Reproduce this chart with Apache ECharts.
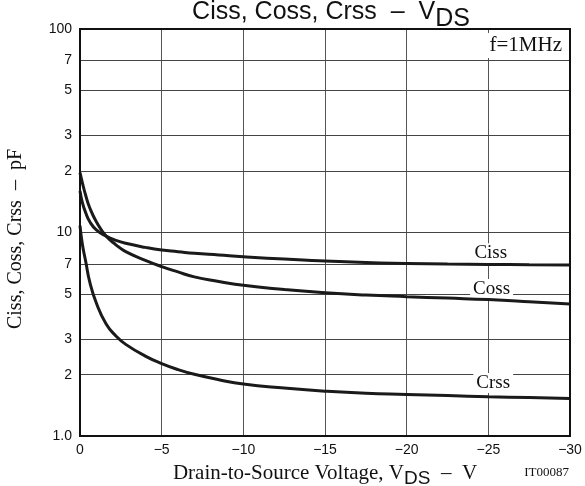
<!DOCTYPE html>
<html>
<head>
<meta charset="utf-8">
<script src="https://cdn.jsdelivr.net/npm/echarts@6/dist/echarts.min.js"></script>
<style>
html,body{margin:0;padding:0;background:#fff;}
#chart{width:585px;height:486px;}
</style>
</head>
<body>
<div id="chart"></div>
<script>
// Drain-to-source voltage (V)
const voltage = [0, -0.15, -0.35, -0.6, -1.0, -1.6, -2.2, -2.8, -4, -5, -6, -7, -8.5, -10, -12.5, -15, -17.5, -20, -22.5, -25, -27.5, -30];
// Capacitances (pF)
const ciss = [16.0, 14.0, 12.5, 11.3, 10.3, 9.6, 9.15, 8.85, 8.45, 8.2, 8.05, 7.9, 7.75, 7.6, 7.4, 7.25, 7.12, 7.05, 7.0, 6.97, 6.94, 6.92];
const coss = [19.7, 17.5, 15.2, 13.2, 11.3, 9.6, 8.7, 8.05, 7.3, 6.8, 6.4, 6.05, 5.75, 5.5, 5.25, 5.06, 4.93, 4.84, 4.76, 4.68, 4.57, 4.45];
const crss = [10.8, 8.7, 7.2, 5.7, 4.5, 3.55, 3.1, 2.82, 2.47, 2.27, 2.12, 2.01, 1.89, 1.8, 1.72, 1.66, 1.62, 1.60, 1.58, 1.56, 1.545, 1.53];
// Y tick values and labels (log axis)
const yTickValues = [1, 2, 3, 5, 7, 10, 20, 30, 50, 70, 100];
const yTickLabels = ['1.0', '2', '3', '5', '7', '10', '2', '3', '5', '7', '100'];
// X ticks
const xTickValues = [0, -5, -10, -15, -20, -25, -30];
// Curve label anchors [V, pF]
const seriesNames = ['Ciss', 'Coss', 'Crss'];
const labelAnchors = [[-25.15, 7.9], [-25.2, 5.28], [-25.3, 1.82]];

const chart = echarts.init(document.getElementById('chart'));
const serif = '"Liberation Serif", "Times New Roman", serif';
const sans = '"Liberation Sans", Arial, sans-serif';

function pairs(vals) { return voltage.map((v, i) => [v, vals[i]]); }

const curveData = [ciss, coss, crss];
const curveSeries = seriesNames.map((name, i) => ({
  name: name,
  type: 'line',
  data: pairs(curveData[i]),
  smooth: 0.5,
  showSymbol: false,
  symbol: 'none',
  z: 5,
  lineStyle: { color: '#1a1a1a', width: 3 },
  markPoint: {
    silent: true,
    symbol: 'circle',
    symbolSize: 0,
    data: [{
      coord: labelAnchors[i],
      label: {
        show: true,
        position: 'inside',
        formatter: name,
        fontFamily: serif,
        fontSize: 19,
        color: '#111',
        backgroundColor: '#fff',
        padding: [1, 3, 0, 3]
      }
    }]
  }
}));

const option = {
  backgroundColor: '#fff',
  animation: false,
  title: {
    text: '{a|Ciss, Coss, Crss  \u2013  V}{b|DS}',
    left: 326,
    textAlign: 'center',
    top: -5,
    textStyle: {
      fontWeight: 'normal',
      rich: {
        a: { fontFamily: sans, fontSize: 25, fontWeight: 'normal', color: '#111', lineHeight: 28, verticalAlign: 'top' },
        b: { fontFamily: sans, fontSize: 25, fontWeight: 'normal', color: '#111', lineHeight: 28, verticalAlign: 'top', padding: [7, 0, 0, 0] }
      }
    }
  },
  grid: {
    left: 80, right: 15, top: 29, bottom: 50,
    outerBoundsMode: 'none',
    containLabel: false,
    show: true, borderColor: '#111', borderWidth: 2, backgroundColor: 'transparent', z: 10
  },
  xAxis: {
    type: 'value',
    min: -30, max: 0, interval: 5,
    inverse: true,
    axisLine: { show: false },
    axisTick: { show: false },
    splitLine: { show: true, lineStyle: { color: '#555', width: 1 } },
    axisLabel: {
      fontFamily: sans, fontSize: 14, color: '#111', margin: 7,
      formatter: v => (xTickValues.indexOf(v) >= 0 ? String(v).replace('-', '\u2212') : '')
    },
    name: '{a|Drain-to-Source Voltage, V}{b|DS}{a|  \u2013  V}',
    nameLocation: 'middle',
    nameGap: 27,
    nameTextStyle: {
      rich: {
        a: { fontFamily: serif, fontSize: 21, color: '#111', lineHeight: 24, verticalAlign: 'top' },
        b: { fontFamily: sans, fontSize: 19, color: '#111', lineHeight: 24, verticalAlign: 'top', padding: [6, 0, 0, 0] }
      }
    }
  },
  yAxis: {
    type: 'log',
    logBase: 10,
    min: 1, max: 100,
    axisLine: { show: false },
    axisTick: { show: false },
    axisLabel: { show: false },
    splitLine: { show: false }
  },
  graphic: [
    {
      type: 'text',
      x: 16,
      y: 239,
      rotation: Math.PI / 2,
      style: {
        text: 'Ciss, Coss, Crss  \u2013  pF',
        font: '20px ' + serif,
        fill: '#111',
        align: 'center',
        verticalAlign: 'middle'
      }
    },
    {
      type: 'text',
      right: 21,
      top: 33,
      z: 20,
      style: {
        text: 'f=1MHz',
        font: '21px ' + serif,
        fill: '#111',
        backgroundColor: '#fff',
        padding: [2, 2, 2, 3]
      }
    },
    {
      type: 'text',
      right: 16,
      top: 466,
      style: { text: 'IT00087', font: '13px ' + serif, fill: '#111' }
    }
  ],
  series: [
    {
      name: 'grid',
      type: 'line',
      data: [],
      z: 1,
      markLine: {
        silent: true,
        symbol: 'none',
        animation: false,
        lineStyle: { color: '#444', width: 1, type: 'solid' },
        data: yTickValues.map((v, i) => ({
          yAxis: v,
          label: {
            show: true,
            position: 'end',
            formatter: yTickLabels[i],
            fontFamily: sans,
            fontSize: 14,
            color: '#111',
            distance: 8
          }
        }))
      }
    }
  ].concat(curveSeries)
};
chart.setOption(option);
</script>
</body>
</html>
